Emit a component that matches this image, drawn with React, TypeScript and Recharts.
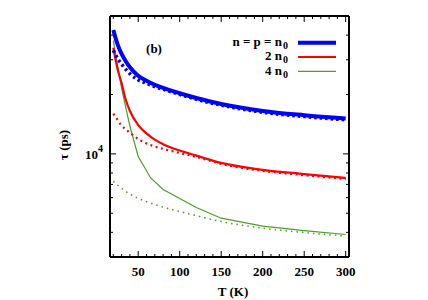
import React from 'react';
import { LineChart, Line, XAxis, YAxis } from 'recharts';

// Temperatures (K)
const T_MAIN = [20, 25, 30, 35, 40, 50, 60, 70, 80, 100, 120, 150, 200, 250, 300];
const T_GREEN = [20, 30, 40, 50, 65, 80, 120, 150, 200, 250, 300];

// tau (ps)
const BLUE_SOLID = [42500, 36000, 32100, 29500, 27500, 24900, 23500, 22400, 21600, 20300, 19200, 17900, 16500, 15700, 15100];
const BLUE_DOTTED = [33500, 30500, 28500, 26800, 25500, 23700, 22800, 21900, 21250, 20000, 18900, 17650, 16250, 15450, 14870];
const RED_SOLID = [34500, 27000, 22800, 18800, 16500, 14000, 12700, 11800, 11200, 10400, 9800, 9000, 8300, 7900, 7550];
const RED_DOTTED = [16000, 14900, 13900, 13300, 12800, 11900, 11300, 10900, 10600, 10100, 9650, 8900, 8200, 7800, 7450];
const GREEN_SOLID = [37500, 21500, 13800, 9700, 7550, 6600, 5350, 4720, 4300, 4080, 3900];
const GREEN_DOTTED = [7250, 6950, 6700, 6450, 6250, 5950, 5720, 5530, 5370, 5100, 4860, 4540, 4200, 3990, 3830];

const X_TICKS = [20, 30, 40, 50, 60, 70, 80, 90, 100, 110, 120, 130, 140, 150, 160, 170, 180, 190, 200, 210, 220, 230, 240, 250, 260, 270, 280, 290, 300];
const X_MAJOR = [50, 100, 150, 200, 250, 300];
const Y_TICKS = [4000, 5000, 6000, 7000, 8000, 9000, 10000, 20000, 30000, 40000];
const Y_MAJOR = [10000];

const LEGEND = [
  { label: 'n = p = n', color: '#0000ff', width: 4 },
  { label: '2 n', color: '#ff0000', width: 2.2 },
  { label: '4 n', color: '#4a9e2a', width: 1.2 },
];

const mk = (ts: number[], vs: number[]) => ts.map((t, i) => ({ T: t, v: vs[i] }));

const FONT = '"Liberation Serif", "Times New Roman", serif';

const BottomTick = (props: any) => {
  const { x, y, payload } = props;
  const major = X_MAJOR.includes(payload.value);
  return (
    <g>
      <line x1={x} x2={x} y1={y} y2={y - (major ? 6 : 3)} stroke="#000" strokeWidth={1} />
      {major && (
        <text x={x} y={y + 19} textAnchor="middle" fontFamily={FONT} fontWeight="bold" fontSize={13} fill="#000">
          {payload.value}
        </text>
      )}
    </g>
  );
};

const TopTick = (props: any) => {
  const { x, y, payload } = props;
  const major = X_MAJOR.includes(payload.value);
  return <line x1={x} x2={x} y1={y} y2={y + (major ? 6 : 3)} stroke="#000" strokeWidth={1} />;
};

const LeftTick = (props: any) => {
  const { x, y, payload } = props;
  const major = Y_MAJOR.includes(payload.value);
  return (
    <g>
      <line x1={x} x2={x + (major ? 6 : 3)} y1={y} y2={y} stroke="#000" strokeWidth={1} />
      {major && (
        <text x={x - 7} y={y + 5.5} textAnchor="end" fontFamily={FONT} fontWeight="bold" fontSize={13} fill="#000">
          <tspan>10</tspan>
          <tspan dy={-7} fontSize={10}>4</tspan>
        </text>
      )}
    </g>
  );
};

const RightTick = (props: any) => {
  const { x, y, payload } = props;
  const major = Y_MAJOR.includes(payload.value);
  return <line x1={x} x2={x - (major ? 6 : 3)} y1={y} y2={y} stroke="#000" strokeWidth={1} />;
};

export default function App() {
  return (
    <div style={{ position: 'absolute', left: 0, top: 0 }}>
      <LineChart width={428} height={300} margin={{ top: 15, right: 78, bottom: 0, left: 0 }}>
        <XAxis
          type="number"
          dataKey="T"
          domain={[16, 304]}
          allowDataOverflow
          ticks={X_TICKS}
          interval={0}
          tickSize={0}
          tickMargin={0}
          tickLine={false}
          tick={<BottomTick />}
          height={43}
          axisLine={{ stroke: '#000', strokeWidth: 2 }}
        />
        <XAxis
          xAxisId="top"
          orientation="top"
          type="number"
          dataKey="T"
          domain={[16, 304]}
          allowDataOverflow
          ticks={X_TICKS}
          interval={0}
          tickSize={0}
          tickMargin={0}
          tickLine={false}
          tick={<TopTick />}
          height={1}
          axisLine={{ stroke: '#000', strokeWidth: 2 }}
        />
        <YAxis
          type="number"
          scale="log"
          domain={[3000, 50000]}
          allowDataOverflow
          ticks={Y_TICKS}
          interval={0}
          tickSize={0}
          tickMargin={0}
          tickLine={false}
          tick={<LeftTick />}
          width={110}
          axisLine={{ stroke: '#000', strokeWidth: 2 }}
        />
        <YAxis
          yAxisId="right"
          orientation="right"
          type="number"
          scale="log"
          domain={[3000, 50000]}
          allowDataOverflow
          ticks={Y_TICKS}
          interval={0}
          tickSize={0}
          tickMargin={0}
          tickLine={false}
          tick={<RightTick />}
          width={1}
          axisLine={{ stroke: '#000', strokeWidth: 2 }}
        />

        {/* invisible copy bound to the mirrored top/right axes so they render */}
        <Line data={mk(T_MAIN, BLUE_SOLID)} xAxisId="top" yAxisId="right" dataKey="v" stroke="transparent" strokeWidth={0} dot={false} activeDot={false} isAnimationActive={false} />

        <Line data={mk(T_MAIN, GREEN_DOTTED)} dataKey="v" type="monotone" stroke="#4a9e2a" strokeWidth={1.5} strokeDasharray="1.5 4" dot={false} isAnimationActive={false} />
        <Line data={mk(T_GREEN, GREEN_SOLID)} dataKey="v" type="linear" stroke="#4a9e2a" strokeWidth={1.2} dot={false} isAnimationActive={false} />
        <Line data={mk(T_MAIN, RED_DOTTED)} dataKey="v" type="monotone" stroke="#ff0000" strokeWidth={2.2} strokeDasharray="2 3.5" dot={false} isAnimationActive={false} />
        <Line data={mk(T_MAIN, RED_SOLID)} dataKey="v" type="monotone" stroke="#ff0000" strokeWidth={2.2} dot={false} isAnimationActive={false} />
        <Line data={mk(T_MAIN, BLUE_DOTTED)} dataKey="v" type="monotone" stroke="#0000ff" strokeWidth={3.5} strokeDasharray="2.5 3" dot={false} isAnimationActive={false} />
        <Line data={mk(T_MAIN, BLUE_SOLID)} dataKey="v" type="monotone" stroke="#0000ff" strokeWidth={4} dot={false} isAnimationActive={false} />

        <text x={154} y={53} textAnchor="middle" fontFamily={FONT} fontWeight="bold" fontSize={13} fill="#000">(b)</text>
        {LEGEND.map((l, i) => (
          <g key={l.label}>
            <text x={282} y={46 + i * 14.3} textAnchor="end" fontFamily={FONT} fontWeight="bold" fontSize={13} fill="#000">
              {l.label}
            </text>
            <text x={283} y={49 + i * 14.3} fontFamily={FONT} fontWeight="bold" fontSize={10} fill="#000">0</text>
            <line x1={298} x2={336} y1={42.7 + i * 14.3} y2={42.7 + i * 14.3} stroke={l.color} strokeWidth={l.width} />
          </g>
        ))}
        <text x={63} y={145} transform="rotate(-90 63 145)" textAnchor="middle" dominantBaseline="central" fontFamily={FONT} fontWeight="bold" fontSize={13} fill="#000">
          τ (ps)
        </text>
        <text x={233} y={296} textAnchor="middle" fontFamily={FONT} fontWeight="bold" fontSize={13} fill="#000">T (K)</text>
      </LineChart>
    </div>
  );
}
